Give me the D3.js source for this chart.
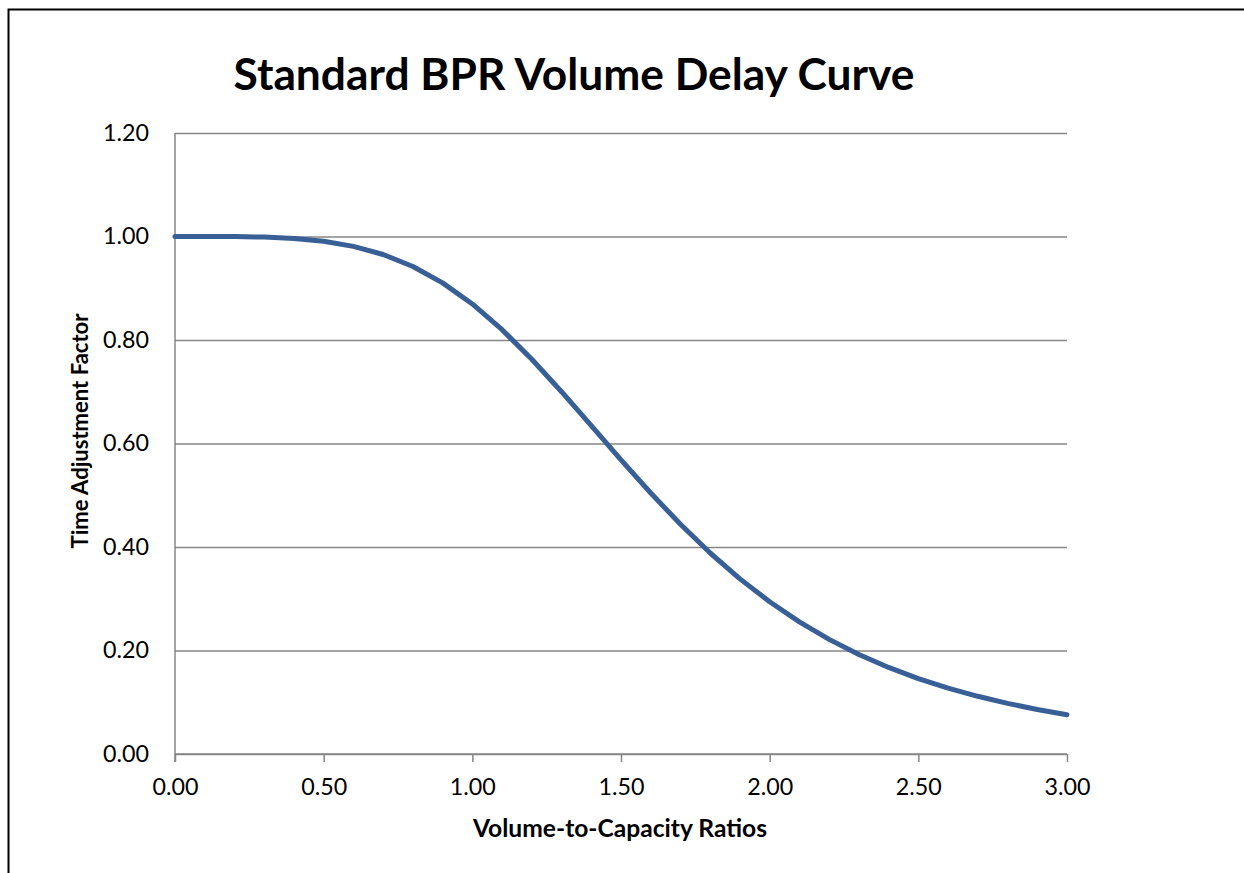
<!DOCTYPE html>
<html>
<head>
<meta charset="utf-8">
<script src="https://cdn.jsdelivr.net/npm/d3@7"></script>
<style>
  html, body { margin: 0; padding: 0; background: #fff; }
  svg { display: block; }
  text { font-family: Lato, "Open Sans", sans-serif; fill: #000; }
</style>
</head>
<body>
<svg id="chart" width="1244" height="873"></svg>
<script>
// ---- data ----
const vcRatios = [0.0, 0.1, 0.2, 0.3, 0.4, 0.5, 0.6, 0.7, 0.8, 0.9, 1.0,
                  1.1, 1.2, 1.3, 1.4, 1.5, 1.6, 1.7, 1.8, 1.9, 2.0,
                  2.1, 2.2, 2.3, 2.4, 2.5, 2.6, 2.7, 2.8, 2.9, 3.0];
const timeFactor = [1.000, 1.000, 0.9998, 0.9988, 0.9962, 0.9907, 0.9809, 0.9652, 0.9421, 0.9104, 0.8696,
                    0.8199, 0.7627, 0.7001, 0.6344, 0.5684, 0.5043, 0.4439, 0.3884, 0.3384, 0.2941,
                    0.2553, 0.2215, 0.1924, 0.1673, 0.1458, 0.1273, 0.1115, 0.0978, 0.0861, 0.0760];
const xTicks = [0, 0.5, 1.0, 1.5, 2.0, 2.5, 3.0];
const yTicks = [0, 0.2, 0.4, 0.6, 0.8, 1.0, 1.2];
const titleText = "Standard BPR Volume Delay Curve";
const xTitle = "Volume-to-Capacity Ratios";
const yTitle = "Time Adjustment Factor";

const svg = d3.select("#chart");
const W = 1244, H = 873;
const pL = 175, pR = 1067, pT = 133, pB = 754;

// outer chart border
svg.append("rect")
  .attr("x", 8.5).attr("y", 9.5)
  .attr("width", W + 20).attr("height", H + 20)
  .attr("fill", "#fff").attr("stroke", "#000").attr("stroke-width", 2);

const x = d3.scaleLinear().domain([0, 3]).range([pL, pR]);
const y = d3.scaleLinear().domain([0, 1.2]).range([pB, pT]);

function fit(sel, target) {
  const node = sel.node();
  const fs = parseFloat(sel.attr("font-size"));
  const w = node.getComputedTextLength();
  if (w > 0) sel.attr("font-size", (fs * target / w).toFixed(2));
}

// tick label size chosen so "0.60" is ~46px wide
const probe = svg.append("text").attr("font-size", 20).text("0.60");
fit(probe, 46);
const tickFs = probe.attr("font-size");
probe.remove();

// gridlines
const gridY = d3.axisLeft(y).tickValues(yTicks).tickSize(-(pR - pL)).tickFormat("");
const gg = svg.append("g").attr("transform", `translate(${pL},0)`).call(gridY);
gg.select(".domain").remove();
gg.selectAll("line").attr("stroke", "#868686").attr("stroke-width", 1.5);

// y axis line (no ticks)
svg.append("line")
  .attr("x1", pL).attr("x2", pL).attr("y1", pT).attr("y2", pB + 8)
  .attr("stroke", "#868686").attr("stroke-width", 1.5);

// y tick labels
const yAxis = d3.axisLeft(y).tickValues(yTicks).tickSize(0).tickPadding(26).tickFormat(d3.format(".2f"));
const yg = svg.append("g").attr("transform", `translate(${pL},0)`).call(yAxis);
yg.select(".domain").remove();
yg.selectAll("text").attr("font-size", tickFs).attr("font-family", "Lato, sans-serif").attr("fill", "#000").attr("dy", "0.32em");

// x axis
const xAxis = d3.axisBottom(x).tickValues(xTicks).tickSize(8).tickPadding(16).tickFormat(d3.format(".2f"));
const xg = svg.append("g").attr("transform", `translate(0,${pB})`).call(xAxis);
xg.select(".domain").attr("stroke", "#868686").attr("stroke-width", 1.5).attr("d", `M${pL},0H${pR}`);
xg.selectAll("line").attr("stroke", "#868686").attr("stroke-width", 1.5);
xg.selectAll("text").attr("font-size", tickFs).attr("font-family", "Lato, sans-serif").attr("fill", "#000").attr("dy", "0.71em");

// curve (straight segments between points)
const line = d3.line().x((d, i) => x(vcRatios[i])).y(d => y(d)).curve(d3.curveLinear);
svg.append("path")
  .datum(timeFactor)
  .attr("d", line)
  .attr("fill", "none")
  .attr("stroke", "#385F96")
  .attr("stroke-width", 5)
  .attr("stroke-linecap", "round")
  .attr("stroke-linejoin", "round");

// title
const t = svg.append("text")
  .attr("x", 574).attr("y", 90)
  .attr("text-anchor", "middle")
  .attr("font-weight", "bold")
  .attr("font-size", 40)
  .text(titleText);
fit(t, 681);

// x title
const xt = svg.append("text")
  .attr("x", 620).attr("y", 837)
  .attr("text-anchor", "middle")
  .attr("font-weight", "bold")
  .attr("font-size", 20)
  .text(xTitle);
fit(xt, 294);

// y title
const yt = svg.append("text")
  .attr("transform", "translate(88,431) rotate(-90)")
  .attr("text-anchor", "middle")
  .attr("font-weight", "bold")
  .attr("font-size", 20)
  .text(yTitle);
fit(yt, 235);
</script>
</body>
</html>
